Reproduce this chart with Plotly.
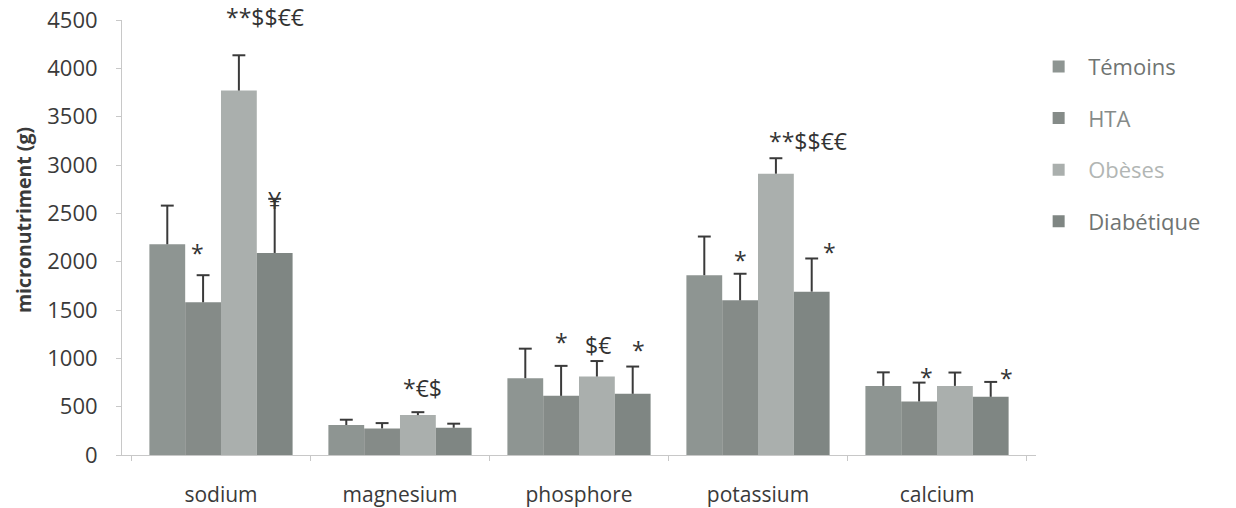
import plotly.graph_objects as go

# Micronutrient intake by group (mean + SD)
categories = ["sodium", "magnesium", "phosphore", "potassium", "calcium"]
groups = ["Témoins", "HTA", "Obèses", "Diabétique"]

temoins_mean = [2180, 310, 795, 1860, 715]
temoins_sd = [400, 55, 305, 400, 140]
hta_mean = [1580, 275, 612, 1600, 554]
hta_sd = [280, 55, 310, 275, 195]
obeses_mean = [3770, 413, 812, 2910, 715]
obeses_sd = [365, 30, 160, 160, 138]
diab_mean = [2090, 282, 633, 1690, 602]
diab_sd = [560, 42, 282, 343, 154]

means = [temoins_mean, hta_mean, obeses_mean, diab_mean]
sds = [temoins_sd, hta_sd, obeses_sd, diab_sd]
bar_colors = ["#8e9592", "#858b88", "#aaafad", "#7f8683"]
legend_text_colors = ["#6f7472", "#868b89", "#b2b6b4", "#6f7472"]

# Significance marks: (x position on the category scale, y value, text)
mark_x = [-0.134, 0.246, 0.30, 1.128, 1.905, 2.106, 2.33, 3.28, 2.90, 3.40, 3.944, 4.39]
mark_y = [2090, 4530, 2640, 693, 1168, 1137, 1086, 3247, 2016, 2099, 806, 796]
mark_text = ["*", "**$$€€", "¥", "*€$", "*", "$€", "*", "**$$€€", "*", "*", "*", "*"]

y_title = "micronutriment (g)"

FONT = "Open Sans"
BARGAP = 0.2
CAP_HALF = 0.036  # half-width of error-bar caps, in category units
Y_MAX = 4500

n_groups = len(groups)
slot = (1 - BARGAP) / n_groups
xpos = list(range(len(categories)))

fig = go.Figure()
for i, g in enumerate(groups):
    fig.add_trace(go.Bar(
        x=xpos,
        y=means[i],
        name=f'<span style="color:{legend_text_colors[i]}">{g}</span>',
        legendgroup=g,
        marker=dict(color=bar_colors[i], line=dict(width=0)),
    ))

# Upper error bars (stem + cap) for each group, centred on its bar
for i, g in enumerate(groups):
    off = (i - (n_groups - 1) / 2) * slot
    ex, ey = [], []
    for j, x0 in enumerate(xpos):
        xc = x0 + off
        top = means[i][j] + sds[i][j]
        ex += [xc, xc, None, xc - CAP_HALF, xc + CAP_HALF, None]
        ey += [means[i][j], top, None, top, top, None]
    fig.add_trace(go.Scatter(
        x=ex, y=ey, mode="lines",
        line=dict(color="#3a3a3a", width=2),
        showlegend=False, hoverinfo="skip", legendgroup=g,
    ))

# Marks above the axis maximum are placed in paper units so they stay visible
for x, y, t in zip(mark_x, mark_y, mark_text):
    if y <= Y_MAX:
        pos = dict(y=y, yref="y")
    else:
        pos = dict(y=y / Y_MAX, yref="paper")
    fig.add_annotation(
        x=x, text=t, xref="x", **pos,
        showarrow=False, yanchor="middle", xanchor="center",
        font=dict(family=FONT, size=23, color="#333333"),
    )

# Vertical y-axis title, placed slightly above the plot's mid-height
fig.add_annotation(
    x=0, y=0.54, xref="paper", yref="paper",
    xshift=-99, xanchor="center", yanchor="middle",
    text=f"<b>{y_title}</b>", textangle=-90, showarrow=False,
    font=dict(family=FONT, size=19.5, color="#3a3a3a"),
)

fig.update_layout(
    width=1236,
    height=508,
    margin=dict(l=122, r=200, t=20, b=53, autoexpand=False),
    paper_bgcolor="white",
    plot_bgcolor="white",
    barmode="group",
    bargap=BARGAP,
    bargroupgap=0,
    font=dict(family=FONT, size=18, color="#444444"),
    showlegend=True,
    legend=dict(
        x=0.9925, y=0.941, xanchor="left", yanchor="top",
        bgcolor="rgba(0,0,0,0)",
        font=dict(family=FONT, size=22),
        tracegroupgap=20,
        itemwidth=49,
    ),
    xaxis=dict(
        range=[-0.553, 4.553],
        tickvals=xpos,
        ticktext=categories,
        automargin=False,
        showline=True,
        linecolor="#c8c8c8",
        linewidth=1,
        ticks="",
        minor=dict(
            tickvals=[k - 0.5 for k in range(len(categories) + 1)],
            ticks="outside", ticklen=5, tickcolor="#c8c8c8", showgrid=False,
        ),
        ticklabelstandoff=21,
        tickfont=dict(family=FONT, size=21, color="#3a3a3a"),
        showgrid=False,
        zeroline=False,
    ),
    yaxis=dict(
        range=[0, Y_MAX],
        dtick=500,
        automargin=False,
        showline=True,
        linecolor="#c8c8c8",
        linewidth=1,
        ticks="outside",
        ticklen=5,
        tickcolor="#c8c8c8",
        ticklabelstandoff=14,
        tickfont=dict(family=FONT, size=22, color="#3a3a3a"),
        showgrid=False,
        zeroline=False,
    ),
)

fig.write_html("out.html")
